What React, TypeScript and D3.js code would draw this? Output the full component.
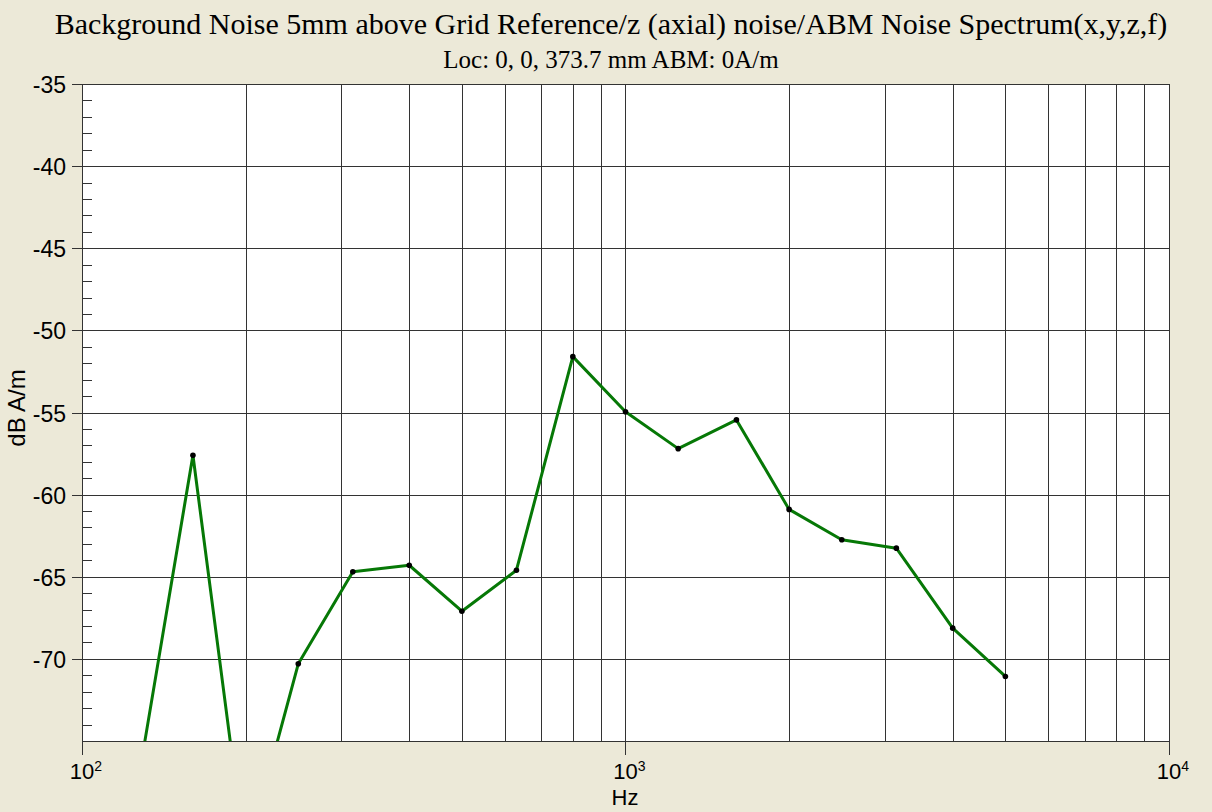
import React from "react";
import * as d3 from "d3";

const freqs = [125, 160, 200, 250, 315, 400, 500, 630, 800, 1000, 1250, 1600, 2000, 2500, 3150, 4000, 5000];
const levels = [-78.7, -57.6, -82.2, -70.3, -64.7, -64.3, -67.1, -64.6, -51.6, -54.95, -57.2, -55.45, -60.9, -62.75, -63.26, -68.13, -71.07];
const yTicks = [-35, -40, -45, -50, -55, -60, -65, -70];
const xMajor = [100, 1000, 10000];
const xMajorExp = ["2", "3", "4"];
const titleText = "Background Noise 5mm above Grid Reference/z (axial) noise/ABM Noise Spectrum(x,y,z,f)";
const subtitleText = "Loc: 0, 0, 373.7 mm ABM: 0A/m";

const W = 1212, H = 812;
const L = 82, R = 1169, T = 84, B = 741;

export default function App() {
  const x = d3.scaleLog().domain([100, 10000]).range([L, R]);
  const y = d3.scaleLinear().domain([-75, -35]).range([B, T]);
  const gridX: number[] = [];
  for (let d = 100; d < 10000; d *= 10) for (let k = 1; k <= 9; k++) gridX.push(d * k);
  gridX.push(10000);
  const minorY = d3.range(-74, -35, 1).filter((v) => v % 5 !== 0);
  const line = d3.line<number>().x((_, i) => x(freqs[i])).y((v) => y(v));
  const px = (v: number) => Math.round(v) + 0.5;
  const sans = "'Liberation Sans', Arial, sans-serif";
  const serif = "'Liberation Serif', 'Times New Roman', serif";
  return (
    <svg width={W} height={H} style={{ position: "absolute", left: 0, top: 0, display: "block" }}>
      <defs>
        <clipPath id="plotclip">
          <rect x={L} y={T} width={R - L} height={B - T} />
        </clipPath>
      </defs>
      <rect x={0} y={0} width={W} height={H} fill="#ECE9D8" />
      <rect x={L} y={T} width={R - L} height={B - T} fill="#ffffff" />
      <text x={611} y={34} textAnchor="middle" fontFamily={serif} fontSize={30} fill="#000">{titleText}</text>
      <text x={611} y={68} textAnchor="middle" fontFamily={serif} fontSize={25} fill="#000">{subtitleText}</text>
      {gridX.map((f, i) => (
        <line key={"gx" + i} x1={px(x(f))} x2={px(x(f))} y1={T} y2={B} stroke="#333" strokeWidth={1} />
      ))}
      {yTicks.map((v) => (
        <line key={"gy" + v} x1={L - 10} x2={R} y1={px(y(v))} y2={px(y(v))} stroke="#333" strokeWidth={1} />
      ))}
      {minorY.map((v) => (
        <line key={"my" + v} x1={L} x2={L + 10} y1={px(y(v))} y2={px(y(v))} stroke="#333" strokeWidth={1} />
      ))}
      <line x1={L} x2={R} y1={px(B)} y2={px(B)} stroke="#333" strokeWidth={1} />
      <line x1={px(L)} x2={px(L)} y1={T} y2={B + 14} stroke="#333" strokeWidth={1} />
      {xMajor.map((f) => (
        <line key={"xt" + f} x1={px(x(f))} x2={px(x(f))} y1={B} y2={B + 14} stroke="#333" strokeWidth={1} />
      ))}
      {yTicks.map((v) => (
        <text key={"yl" + v} x={66} y={y(v) + 9} textAnchor="end" fontFamily={sans} fontSize={23} fill="#000">{v}</text>
      ))}
      {xMajor.map((f, i) => (
        <text key={"xl" + f} x={x(f) + 4} y={B + 38} textAnchor="middle" fontFamily={sans} fontSize={22} fill="#000">
          10<tspan dy={-8} fontSize={14}>{xMajorExp[i]}</tspan>
        </text>
      ))}
      <text x={625} y={805} textAnchor="middle" fontFamily={sans} fontSize={22} fill="#000">Hz</text>
      <text transform={`translate(25, 408) rotate(-90)`} textAnchor="middle" fontFamily={sans} fontSize={24} fill="#000">dB A/m</text>
      <g clipPath="url(#plotclip)">
        <path d={line(levels) || ""} fill="none" stroke="#067806" strokeWidth={3} strokeLinejoin="round" />
        {levels.map((v, i) => (
          <circle key={"pt" + i} cx={x(freqs[i])} cy={y(v)} r={2.8} fill="#000" />
        ))}
      </g>
    </svg>
  );
}
